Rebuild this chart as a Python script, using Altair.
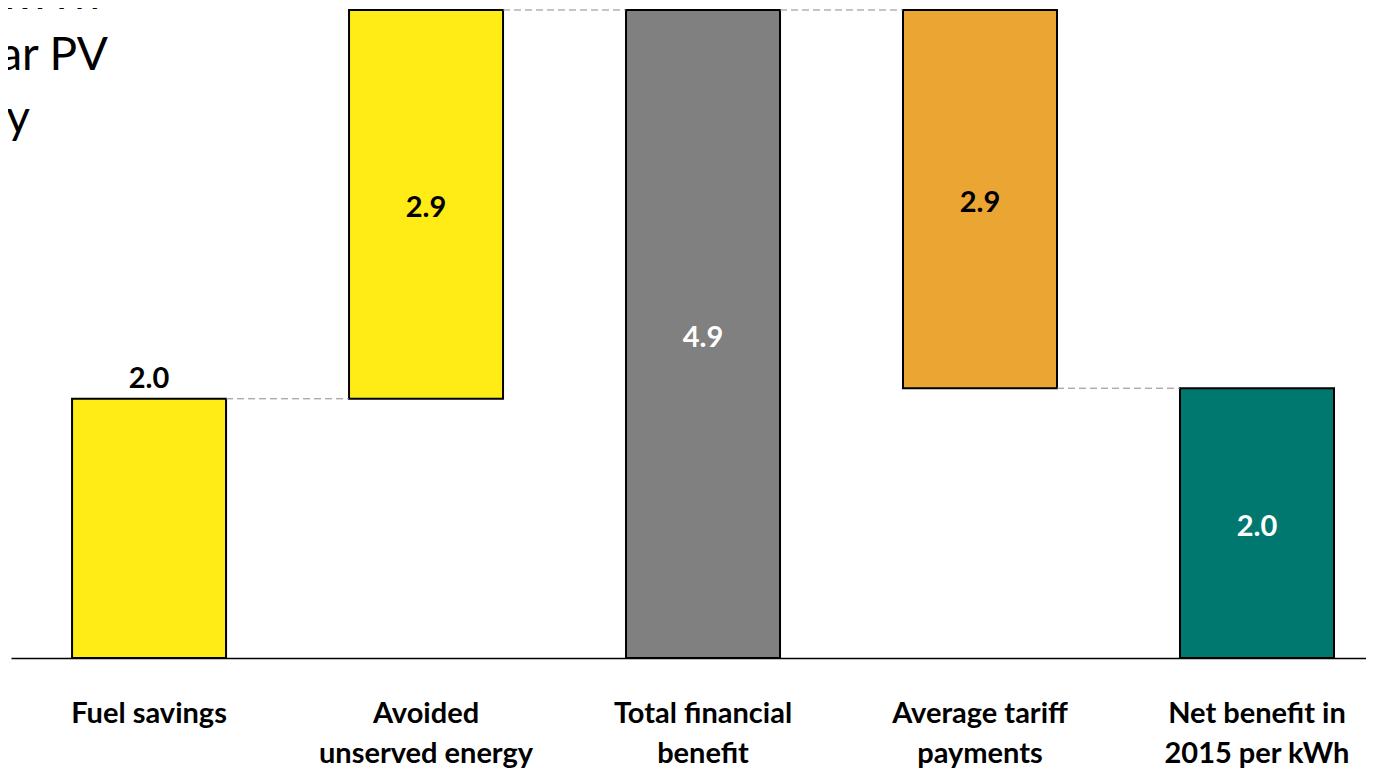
import altair as alt
import pandas as pd

# ---- data ----
categories = [
    "Fuel savings",
    "Avoided|unserved energy",
    "Total financial|benefit",
    "Average tariff|payments",
    "Net benefit in|2015 per kWh",
]
values = [1.96, 2.94, 4.90, -2.86, 2.04]
kinds = ["delta", "delta", "total", "delta", "total"]
bar_colors = ["#FFEB15", "#FFEB15", "#808080", "#EBA533", "#00786F"]
label_colors = ["black", "black", "white", "black", "white"]
label_place = ["above", "inside", "inside", "inside", "inside"]
side_text = ["US cents per kWh", "from solar PV", "energy"]

# ---- waterfall geometry from the values ----
starts, ends = [], []
running = 0.0
for v, k in zip(values, kinds):
    if k == "total":
        s, e = 0.0, v
    else:
        s, e = running, running + v
    running = e
    starts.append(s)
    ends.append(e)

bars = pd.DataFrame({
    "cat": categories,
    "start": starts,
    "end": ends,
    "mid": [(s + e) / 2 for s, e in zip(starts, ends)],
    "top": [max(s, e) for s, e in zip(starts, ends)],
    "label": [f"{abs(v):.1f}" for v in values],
    "tcolor": label_colors,
    "place": label_place,
})

conn = pd.DataFrame({
    "cat": categories[:-1],
    "nxt": categories[1:],
    "level": ends[:-1],
})

side = pd.DataFrame({"t": side_text, "i": [0, 1, 2]})

FONT = "Lato"

xscale = alt.Scale(domain=categories, paddingInner=0.444, paddingOuter=0.168, align=0.656)
yscale = alt.Scale(domain=[0, 4.915], nice=False, zero=True)

xaxis = alt.Axis(
    title=None, ticks=False, tickSize=0, grid=False,
    labelExpr="split(datum.label, '|')",
    labelFont=FONT, labelFontSize=29, labelFontWeight="bold", labelColor="black",
    labelLineHeight=40, labelPadding=41, labelAngle=0, labelLimit=400,
    domainColor="black", domainWidth=1.5,
)

bar_layer = alt.Chart(bars).mark_bar(stroke="black", strokeWidth=2).encode(
    x=alt.X("cat:N", scale=xscale, axis=xaxis),
    y=alt.Y("start:Q", scale=yscale, axis=None),
    y2="end:Q",
    color=alt.Color("cat:N", scale=alt.Scale(domain=categories, range=bar_colors), legend=None),
)

rule_layer = alt.Chart(conn).mark_rule(color="#8a8a8a", strokeDash=[7, 4], strokeWidth=1).encode(
    x=alt.X("cat:N", scale=xscale, axis=xaxis, bandPosition=1),
    x2=alt.X2("nxt:N", bandPosition=0),
    y=alt.Y("level:Q", scale=yscale, axis=None),
)

text_inside = alt.Chart(bars).transform_filter("datum.place == 'inside'").mark_text(
    font=FONT, fontSize=29, fontWeight="bold", baseline="middle", align="center", dy=4
).encode(
    x=alt.X("cat:N", scale=xscale, axis=xaxis),
    y=alt.Y("mid:Q", scale=yscale, axis=None),
    text="label:N",
    color=alt.Color("tcolor:N", scale=None),
)

text_above = alt.Chart(bars).transform_filter("datum.place == 'above'").mark_text(
    font=FONT, fontSize=29, fontWeight="bold", baseline="alphabetic", align="center", dy=-11
).encode(
    x=alt.X("cat:N", scale=xscale, axis=xaxis),
    y=alt.Y("top:Q", scale=yscale, axis=None),
    text="label:N",
    color=alt.Color("tcolor:N", scale=None),
)

side_layer = alt.Chart(side).mark_text(
    font=FONT, fontSize=46, align="right", baseline="alphabetic", color="black"
).encode(
    x=alt.X("xp:Q", scale=None, axis=None),
    y=alt.Y("yp:Q", scale=None, axis=None),
    text="t:N",
).transform_calculate(
    xp="[89, 97, 19][datum.i]",
    yp="[1, 62, 125][datum.i]",
)

chart = alt.layer(bar_layer, rule_layer, text_inside, text_above, side_layer).properties(
    width=1355, height=650,
    autosize=alt.AutoSizeParams(type="none"),
    padding={"left": 3, "top": 0, "right": 0, "bottom": 113},
).configure_view(stroke=None)

chart.save("out.html", embed_options={"renderer": "svg", "actions": False})
